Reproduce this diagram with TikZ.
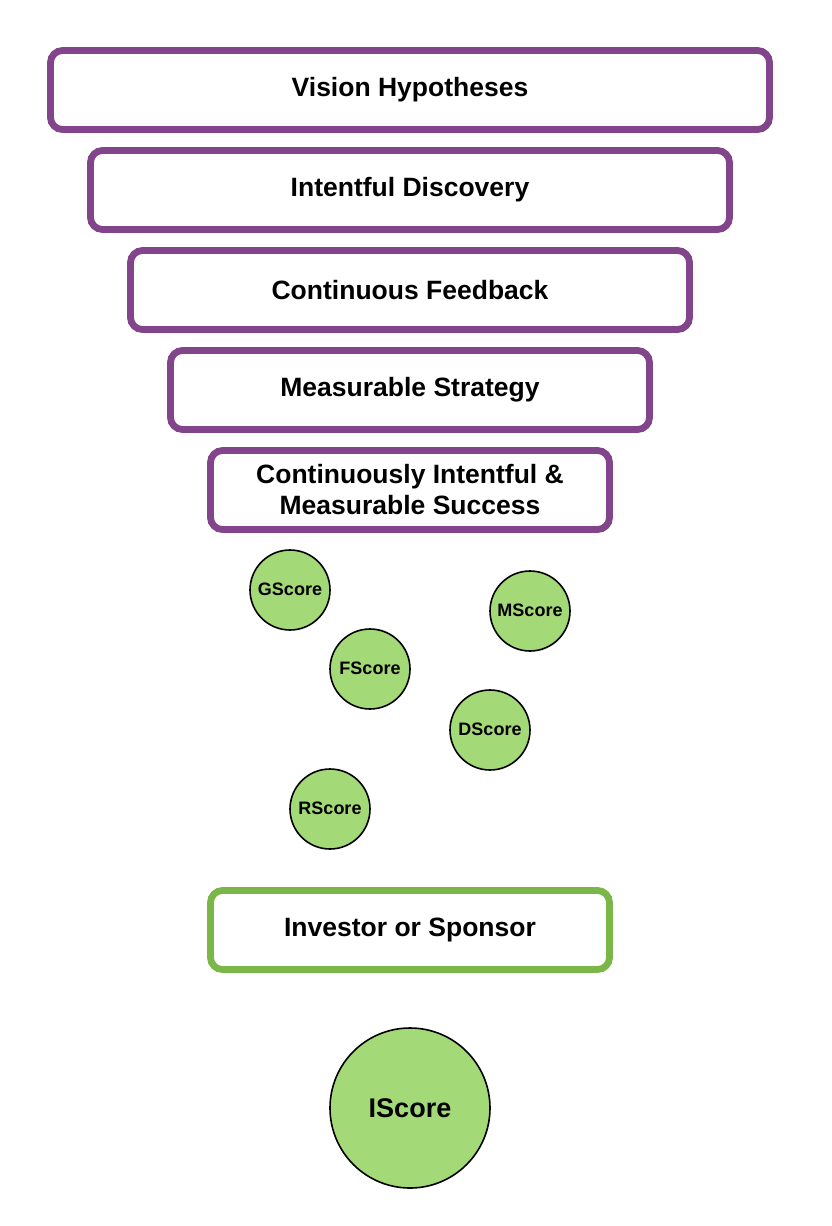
\documentclass[tikz,border=0pt]{standalone}
\usepackage{fontspec}
\setmainfont{Liberation Sans}
\definecolor{boxpurple}{RGB}{130,68,138}
\definecolor{boxgreen}{RGB}{122,182,72}
\definecolor{circfill}{RGB}{163,217,119}
\begin{document}
\begin{tikzpicture}[x=1pt,y=-1pt,
  stage/.style={draw=boxpurple,line width=6.8pt,rounded corners=12pt,fill=white,
    minimum height=79pt,align=center,inner sep=0pt,
    font=\fontsize{26.5}{31}\selectfont\bfseries},
  gstage/.style={stage,draw=boxgreen},
  score/.style={circle,draw=black,line width=1.6pt,fill=circfill,minimum size=80pt,inner sep=0pt,
    font=\fontsize{18}{20}\selectfont\bfseries},
  bigscore/.style={score,minimum size=160pt,font=\fontsize{27}{30}\selectfont\bfseries}]
\useasboundingbox (0,0) rectangle (832,1226);
\node[stage,minimum width=719pt] (v) at (410,90) {Vision Hypotheses};
\node[stage,minimum width=639pt] (d) at (410,190) {Intentful Discovery};
\node[stage,minimum width=559pt] (c) at (410,290) {Continuous Feedback};
\node[stage,minimum width=479pt] (m) at (410,390) {Measurable Strategy};
\node[stage,minimum width=399pt] (s) at (410,490) {\raisebox{1.5pt}{Continuously Intentful \&}\\\raisebox{1.5pt}{Measurable Success}};
\node[score] (g) at (290,590) {\raisebox{1.5pt}{GScore}};
\node[score] (ms) at (530,611) {\raisebox{1.5pt}{MScore}};
\node[score] (f) at (370,669) {\raisebox{1.5pt}{FScore}};
\node[score] (ds) at (490,730) {\raisebox{1.5pt}{DScore}};
\node[score] (r) at (330,809) {\raisebox{1.5pt}{RScore}};
\node[gstage,minimum width=399pt] (inv) at (410,930) {Investor or Sponsor};
\node[bigscore] (i) at (410,1108) {IScore};
\end{tikzpicture}
\end{document}
